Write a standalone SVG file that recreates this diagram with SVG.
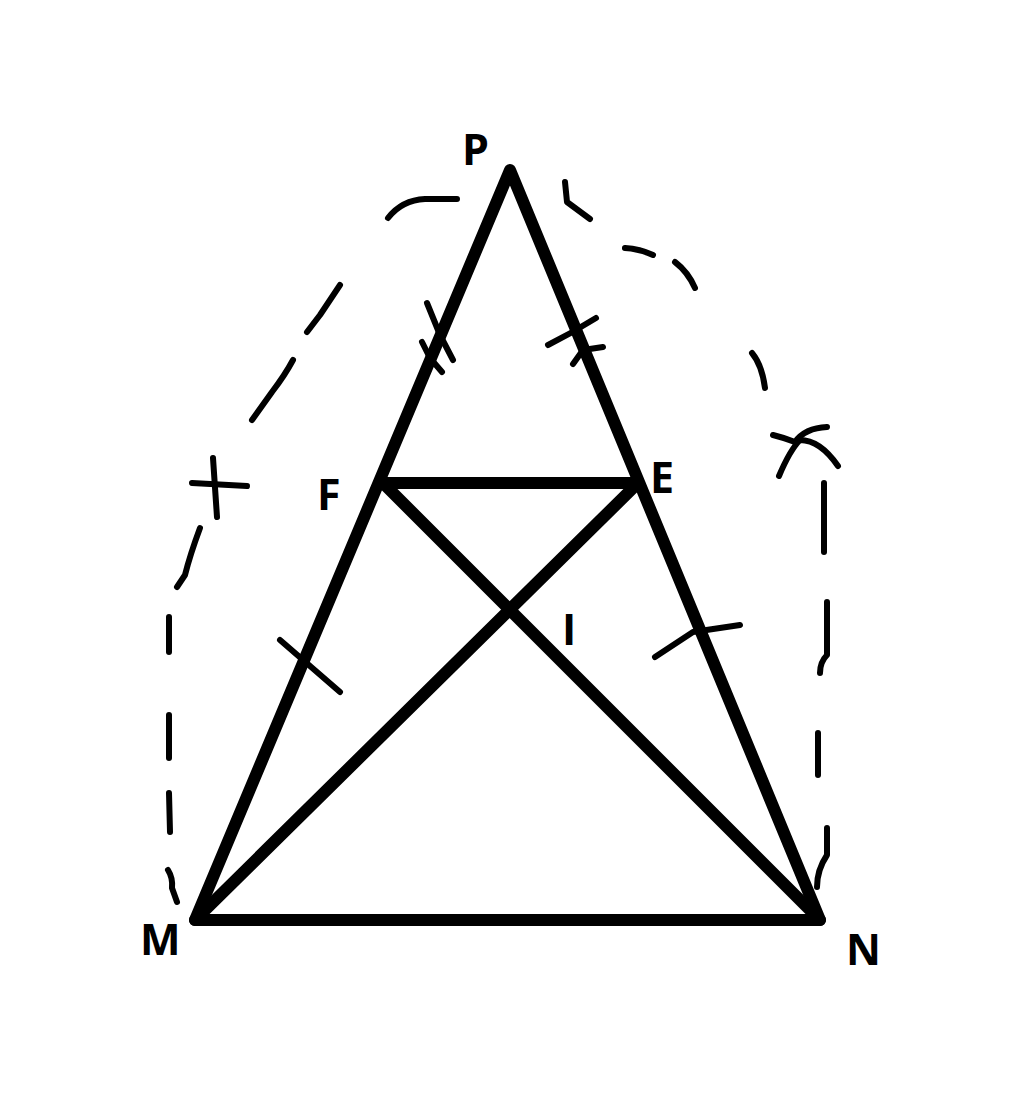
<svg xmlns="http://www.w3.org/2000/svg" width="1024" height="1112" viewBox="0 0 1024 1112">
<style>
.main{stroke:#000;stroke-width:12;fill:none;stroke-linecap:round;stroke-linejoin:round}
.dash{stroke:#000;stroke-width:6;fill:none;stroke-linecap:round;stroke-linejoin:round}
.lbl{font-family:"Open Sans","Liberation Sans",Arial,sans-serif;font-weight:bold;font-size:43px;fill:#000}
</style>
<rect width="1024" height="1112" fill="#fff"/>
<g id="connectors">
<path class="main" d="M510,170 L195,920 L820,920 Z"/>
<path class="main" d="M383,483 L638,483"/>
<path class="main" d="M383,483 L820,920"/>
<path class="main" d="M638,483 L195,920"/>
</g>
<g id="dashed-arcs">
<path class="dash" d="M388,218 Q402,200 425,199 L457,199"/>
<path class="dash" d="M340,285 Q330,300 320,315 L307,332"/>
<path class="dash" d="M293,360 Q285,375 272,392 L252,420"/>
<path class="dash" d="M200,528 Q190,555 185,575 L177,587"/>
<path class="dash" d="M169,617 L169,652"/>
<path class="dash" d="M169,715 L169,758"/>
<path class="dash" d="M169,793 L170,832"/>
<path class="dash" d="M168,870 Q173,878 172,888 L177,902"/>
<path class="dash" d="M565,182 L567,202 L590,219"/>
<path class="dash" d="M625,248 Q640,249 653,255"/>
<path class="dash" d="M675,262 Q688,272 695,288"/>
<path class="dash" d="M752,353 Q762,365 765,388"/>
<path class="dash" d="M824,483 L824,552"/>
<path class="dash" d="M827,602 L827,655 Q820,662 820,673"/>
<path class="dash" d="M818,733 L818,775"/>
<path class="dash" d="M827,828 L827,855 Q817,870 817,887"/>
</g>
<g id="ticks">
<path class="dash" d="M213,458 L217,517"/>
<path class="dash" d="M192,483 L247,486"/>
<path class="dash" d="M427,303 L440,335 L453,360"/>
<path class="dash" d="M422,342 L430,358 L442,372"/>
<path class="dash" d="M548,345 Q572,333 596,318"/>
<path class="dash" d="M573,364 L583,350 L603,347"/>
<path class="dash" d="M280,640 L340,692"/>
<path class="dash" d="M655,657 L693,632 L740,625"/>
<path class="dash" d="M773,435 Q785,438 795,442 Q805,428 827,427"/>
<path class="dash" d="M779,476 Q790,450 800,440 Q820,440 838,466"/>
</g>
<g id="node-P"><text class="lbl" x="462" y="165">P</text></g>
<g id="node-F"><text class="lbl" x="317" y="510">F</text></g>
<g id="node-E"><text class="lbl" x="650" y="493">E</text></g>
<g id="node-I"><text class="lbl" x="562" y="645">I</text></g>
<g id="node-M"><text class="lbl" x="140" y="955">M</text></g>
<g id="node-N"><text class="lbl" x="846" y="965">N</text></g>
</svg>
